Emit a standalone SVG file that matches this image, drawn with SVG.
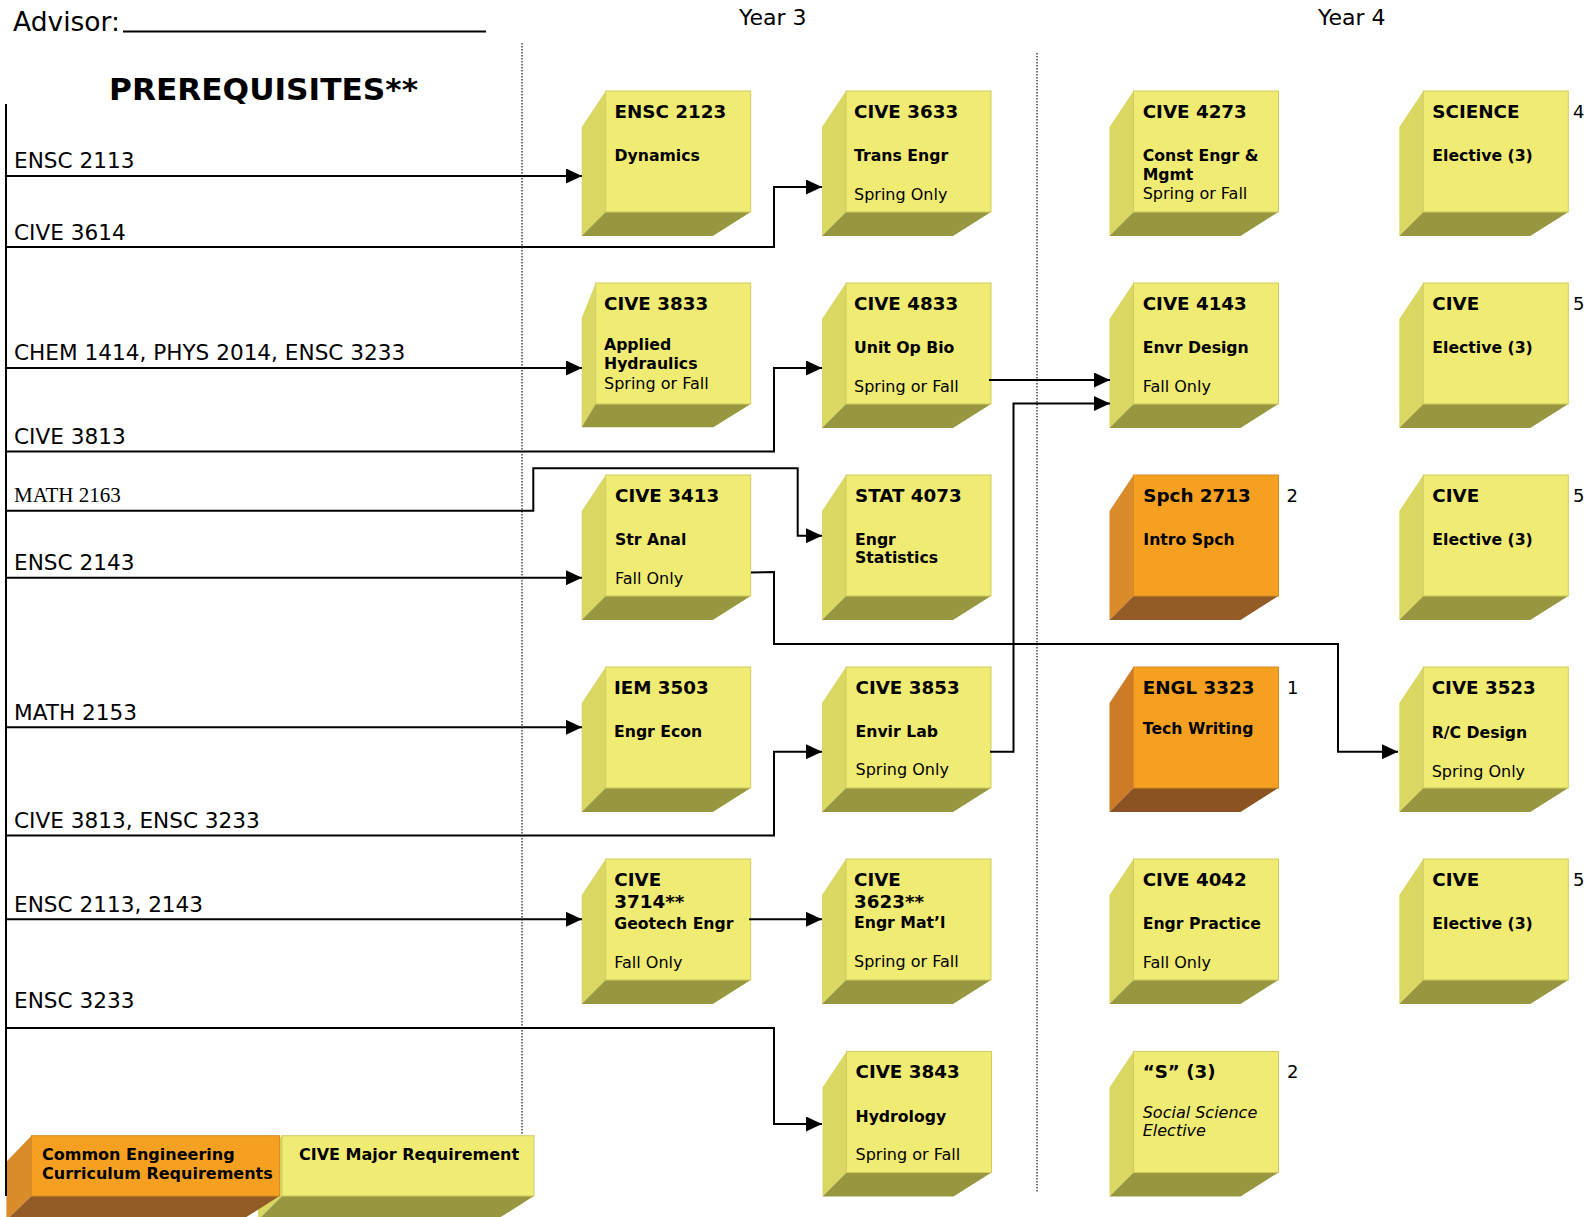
<svg xmlns="http://www.w3.org/2000/svg" xmlns:xlink="http://www.w3.org/1999/xlink" width="1595" height="1217" viewBox="0 0 1595 1217">
<style>
  text { font-family: "DejaVu Sans", Verdana, sans-serif; fill: #000; }
  .t { font-size: 18.3px; font-weight: bold; }
  .s { font-size: 15.7px; font-weight: bold; }
  .r { font-size: 16px; }
  .it { font-size: 16px; font-style: italic; }
  .num { font-size: 18px; }
  .pre { font-size: 21.6px; }
  .yr { font-size: 22px; }
  .lg { font-size: 16px; font-weight: bold; }
  .yf { fill: #F0EB73; stroke: #CFCB62; stroke-width: 1; }
  .yl { fill: #DAD762; }
  .yb { fill: #98963E; }
  .of { fill: #F5A021; stroke: #D88A22; stroke-width: 1; }
  .ol { fill: #DA8C2A; }
  .ol2 { fill: #CE7B28; }
  .ob { fill: #935B26; }
  .ob2 { fill: #8B5222; }
  .conn { fill: none; stroke: #000; stroke-width: 2; }
  .dot { fill: none; stroke: #444; stroke-width: 1.5; stroke-dasharray: 1.5 1.5; }
</style>
<defs>
  <marker id="arr" markerUnits="userSpaceOnUse" markerWidth="16" markerHeight="15" refX="16" refY="7.5" orient="auto">
    <path d="M0,0 L16,7.5 L0,15 z" fill="#000"/>
  </marker>
  <g id="cubeY">
    <polygon class="yl" points="0,0 -24,36 -24,145 0,121"/>
    <polygon class="yb" points="0,121 145,121 107,145 -24,145"/>
    <rect class="yf" x="0" y="0" width="145" height="121"/>
  </g>
  <g id="cubeO">
    <polygon class="ol" points="0,0 -24,36 -24,145 0,121"/>
    <polygon class="ob" points="0,121 145,121 107,145 -24,145"/>
    <rect class="of" x="0" y="0" width="145" height="121"/>
  </g>
  <g id="cubeO2">
    <polygon class="ol2" points="0,0 -24,36 -24,145 0,121"/>
    <polygon class="ob2" points="0,121 145,121 107,145 -24,145"/>
    <rect class="of" x="0" y="0" width="145" height="121"/>
  </g>
</defs>
<rect x="0" y="0" width="1595" height="1217" fill="#fff"/>

<g id="header">
  <text x="13" y="31" style="font-size:26.5px">Advisor:</text>
  <line x1="123" y1="31.5" x2="486" y2="31.5" stroke="#000" stroke-width="2"/>
  <text x="109" y="100" style="font-size:30px;font-weight:bold" textLength="309" lengthAdjust="spacingAndGlyphs">PREREQUISITES**</text>
  <text class="yr" x="739" y="25">Year 3</text>
  <text class="yr" x="1318" y="25">Year 4</text>
  <line class="dot" x1="522" y1="43" x2="522" y2="1134"/>
  <line class="dot" x1="1037" y1="53" x2="1037" y2="1192"/>
</g>

<g id="prereq-labels">
  <text class="pre" x="14" y="168">ENSC 2113</text>
  <text class="pre" x="14" y="240">CIVE 3614</text>
  <text class="pre" x="14" y="360">CHEM 1414, PHYS 2014, ENSC 3233</text>
  <text class="pre" x="14" y="443.5">CIVE 3813</text>
  <text x="14" y="502" style="font-family:'Liberation Serif','Times New Roman',serif;font-size:21px">MATH 2163</text>
  <text class="pre" x="14" y="570">ENSC 2143</text>
  <text class="pre" x="14" y="720">MATH 2153</text>
  <text class="pre" x="14" y="828">CIVE 3813, ENSC 3233</text>
  <text class="pre" x="14" y="911.5">ENSC 2113, 2143</text>
  <text class="pre" x="14" y="1008">ENSC 3233</text>
</g>

<g id="legend">
  <g id="legend-major">
    <polygon class="yl" points="282,1135.7 258,1161 258,1220 282,1196"/>
    <polygon class="yb" points="282,1196 534,1196 496,1220 258,1220"/>
    <rect class="yf" x="282" y="1135.7" width="252" height="60.3"/>
    <text class="lg" x="299" y="1160">CIVE Major Requirement</text>
  </g>
  <g id="legend-common">
    <polygon class="ol" points="31.4,1135.7 6.4,1161.7 6.4,1220 31.4,1196"/>
    <polygon class="ob" points="31.4,1196 279.6,1196 241.6,1220 6.4,1220"/>
    <rect class="of" x="31.4" y="1135.7" width="248.2" height="60.3"/>
    <text class="lg" x="42" y="1160">Common Engineering</text>
    <text class="lg" x="42" y="1179.3">Curriculum Requirements</text>
  </g>
</g>

<!-- Row 1 -->
<g id="ENSC2123">
  <use xlink:href="#cubeY" x="605.7" y="91"/>
  <text class="t" x="614.5" y="117.5">ENSC 2123</text>
  <text class="s" x="614.5" y="161">Dynamics</text>
</g>
<g id="CIVE3633">
  <use xlink:href="#cubeY" x="846" y="91"/>
  <text class="t" x="854" y="117.5">CIVE 3633</text>
  <text class="s" x="854" y="161">Trans Engr</text>
  <text class="r" x="854" y="199.5">Spring Only</text>
</g>
<g id="CIVE4273">
  <use xlink:href="#cubeY" x="1133.5" y="91"/>
  <text class="t" x="1142.7" y="117.5">CIVE 4273</text>
  <text class="s" x="1142.7" y="161">Const Engr &amp;</text>
  <text class="s" x="1142.7" y="180">Mgmt</text>
  <text class="r" x="1142.7" y="199">Spring or Fall</text>
</g>
<g id="SCIENCE">
  <use xlink:href="#cubeY" x="1423.3" y="91"/>
  <text class="t" x="1432.3" y="117.5">SCIENCE</text>
  <text class="s" x="1432.3" y="161">Elective (3)</text>
  <text class="num" x="1573" y="117.5">4</text>
</g>

<!-- Row 2 -->
<g id="CIVE3833">
  <polygon class="yl" points="595.7,283 581.7,318 581.7,427.3 595.7,404"/>
  <polygon class="yb" points="595.7,404 750.7,404 713.3,427.3 581.7,427.3"/>
  <rect class="yf" x="595.7" y="283" width="155" height="121"/>
  <text class="t" x="604" y="309.5">CIVE 3833</text>
  <text class="s" x="604" y="350">Applied</text>
  <text class="s" x="604" y="369">Hydraulics</text>
  <text class="r" x="604" y="389">Spring or Fall</text>
</g>
<g id="CIVE4833">
  <use xlink:href="#cubeY" x="846" y="283"/>
  <text class="t" x="854" y="309.5">CIVE 4833</text>
  <text class="s" x="854" y="352.7">Unit Op Bio</text>
  <text class="r" x="854" y="391.7">Spring or Fall</text>
</g>
<g id="CIVE4143">
  <use xlink:href="#cubeY" x="1133.5" y="283"/>
  <text class="t" x="1142.7" y="309.5">CIVE 4143</text>
  <text class="s" x="1142.7" y="353">Envr Design</text>
  <text class="r" x="1142.7" y="391.5">Fall Only</text>
</g>
<g id="CIVE-elective-1">
  <use xlink:href="#cubeY" x="1423.3" y="283"/>
  <text class="t" x="1432.3" y="309.5">CIVE</text>
  <text class="s" x="1432.3" y="353">Elective (3)</text>
  <text class="num" x="1573" y="309.5">5</text>
</g>

<!-- Row 3 -->
<g id="CIVE3413">
  <use xlink:href="#cubeY" x="605.7" y="475"/>
  <text class="t" x="615" y="501.5">CIVE 3413</text>
  <text class="s" x="615" y="545">Str Anal</text>
  <text class="r" x="615" y="583.5">Fall Only</text>
</g>
<g id="STAT4073">
  <use xlink:href="#cubeY" x="846" y="475"/>
  <text class="t" x="855" y="501.5">STAT 4073</text>
  <text class="s" x="855" y="545">Engr</text>
  <text class="s" x="855" y="563.3">Statistics</text>
</g>
<g id="SPCH2713">
  <use xlink:href="#cubeO" x="1133.5" y="475"/>
  <text class="t" x="1143.3" y="501.5">Spch 2713</text>
  <text class="s" x="1143.3" y="545">Intro Spch</text>
  <text class="num" x="1286.5" y="501.5">2</text>
</g>
<g id="CIVE-elective-2">
  <use xlink:href="#cubeY" x="1423.3" y="475"/>
  <text class="t" x="1432.3" y="501.5">CIVE</text>
  <text class="s" x="1432.3" y="545">Elective (3)</text>
  <text class="num" x="1573" y="501.5">5</text>
</g>

<!-- Row 4 -->
<g id="IEM3503">
  <use xlink:href="#cubeY" x="605.7" y="667"/>
  <text class="t" x="614" y="693.5">IEM 3503</text>
  <text class="s" x="614" y="737">Engr Econ</text>
</g>
<g id="CIVE3853">
  <use xlink:href="#cubeY" x="846" y="667"/>
  <text class="t" x="855.5" y="694">CIVE 3853</text>
  <text class="s" x="855.5" y="736.7">Envir Lab</text>
  <text class="r" x="855.5" y="775">Spring Only</text>
</g>
<g id="ENGL3323">
  <use xlink:href="#cubeO2" x="1133.5" y="667"/>
  <text class="t" x="1142.8" y="694">ENGL 3323</text>
  <text class="s" x="1142.8" y="734.3">Tech Writing</text>
  <text class="num" x="1287" y="694">1</text>
</g>
<g id="CIVE3523">
  <use xlink:href="#cubeY" x="1423.3" y="667"/>
  <text class="t" x="1431.7" y="693.5">CIVE 3523</text>
  <text class="s" x="1431.7" y="737.7">R/C Design</text>
  <text class="r" x="1431.7" y="776.5">Spring Only</text>
</g>

<!-- Row 5 -->
<g id="CIVE3714">
  <use xlink:href="#cubeY" x="605.7" y="859"/>
  <text class="t" x="614.3" y="885.7">CIVE</text>
  <text class="t" x="614.3" y="908.3">3714**</text>
  <text class="s" x="614.3" y="929">Geotech Engr</text>
  <text class="r" x="614.3" y="968.3">Fall Only</text>
</g>
<g id="CIVE3623">
  <use xlink:href="#cubeY" x="846" y="859"/>
  <text class="t" x="854" y="885.7">CIVE</text>
  <text class="t" x="854" y="908.3">3623**</text>
  <text class="s" x="854" y="928.3">Engr Mat’l</text>
  <text class="r" x="854" y="966.7">Spring or Fall</text>
</g>
<g id="CIVE4042">
  <use xlink:href="#cubeY" x="1133.5" y="859"/>
  <text class="t" x="1142.7" y="885.5">CIVE 4042</text>
  <text class="s" x="1142.7" y="929">Engr Practice</text>
  <text class="r" x="1142.7" y="967.5">Fall Only</text>
</g>
<g id="CIVE-elective-3">
  <use xlink:href="#cubeY" x="1423.3" y="859"/>
  <text class="t" x="1432.3" y="885.5">CIVE</text>
  <text class="s" x="1432.3" y="929">Elective (3)</text>
  <text class="num" x="1573" y="885.5">5</text>
</g>

<!-- Row 6 -->
<g id="CIVE3843">
  <use xlink:href="#cubeY" x="846.5" y="1051.5"/>
  <text class="t" x="855.5" y="1077.5">CIVE 3843</text>
  <text class="s" x="855.5" y="1121.7">Hydrology</text>
  <text class="r" x="855.5" y="1160">Spring or Fall</text>
</g>
<g id="S-elective">
  <use xlink:href="#cubeY" x="1133.5" y="1051.5"/>
  <text class="t" x="1142.7" y="1077.5">“S” (3)</text>
  <text class="it" x="1142.7" y="1117.5">Social Science</text>
  <text class="it" x="1142.7" y="1135.5">Elective</text>
  <text class="num" x="1287" y="1077.5">2</text>
</g>

<g id="connectors">
  <line x1="6" y1="104" x2="6" y2="1196" stroke="#000" stroke-width="2"/>
  <path class="conn" marker-end="url(#arr)" d="M6,176 H582"/>
  <path class="conn" marker-end="url(#arr)" d="M6,247 H774 V187 H822"/>
  <path class="conn" marker-end="url(#arr)" d="M6,368 H582"/>
  <path class="conn" marker-end="url(#arr)" d="M6,451.5 H774 V368 H822"/>
  <path class="conn" marker-end="url(#arr)" d="M6,510.7 H533.3 V468.3 H797.7 V535.7 H822"/>
  <path class="conn" marker-end="url(#arr)" d="M6,577.7 H582"/>
  <path class="conn" marker-end="url(#arr)" d="M751,572.5 L774,572 V644 H1338 V751.7 H1398"/>
  <path class="conn" marker-end="url(#arr)" d="M6,727.3 H582"/>
  <path class="conn" marker-end="url(#arr)" d="M6,835.5 H774 V751.7 H822"/>
  <path class="conn" marker-end="url(#arr)" d="M990,751.7 H1013.5 V403.5 H1110"/>
  <path class="conn" marker-end="url(#arr)" d="M989,380 H1110"/>
  <path class="conn" marker-end="url(#arr)" d="M6,919.3 H582"/>
  <path class="conn" marker-end="url(#arr)" d="M749,919.3 H822"/>
  <path class="conn" marker-end="url(#arr)" d="M6,1028 H774 V1124 H822"/>
</g>
</svg>
